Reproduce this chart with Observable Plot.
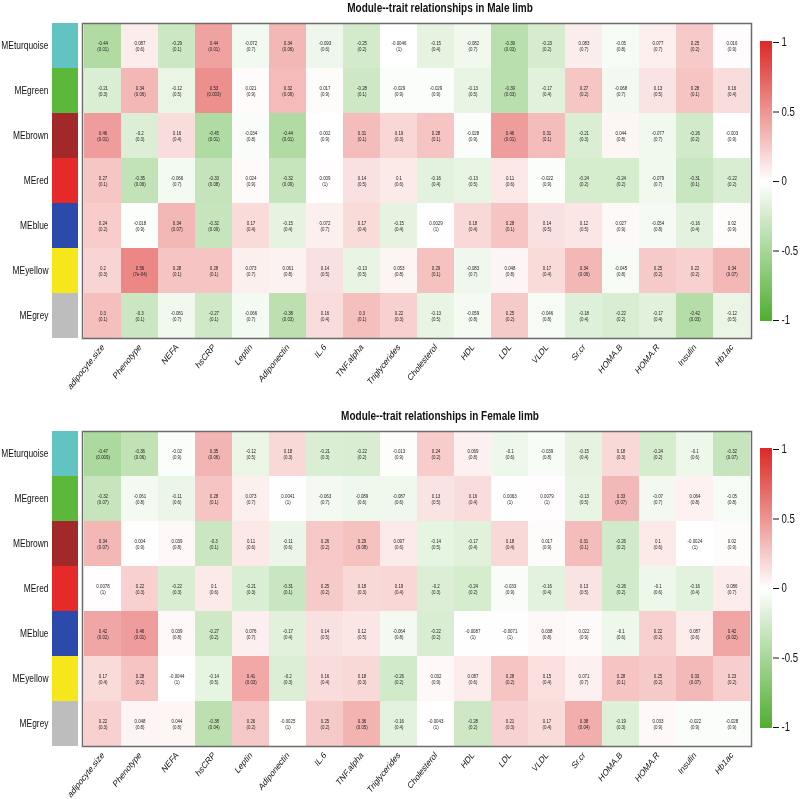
<!DOCTYPE html>
<html><head><meta charset="utf-8">
<script src="https://cdn.jsdelivr.net/npm/d3@7"></script>
<script src="https://cdn.jsdelivr.net/npm/@observablehq/plot@0.6"></script>
<style>
body{margin:0;background:#fff;}
#chart{position:relative;width:800px;height:799px;overflow:hidden;font-family:"Liberation Sans",Arial,sans-serif;background:#fff;}
#chart svg{position:absolute;background:transparent;will-change:transform;}
.title{position:absolute;font-weight:bold;font-size:12.5px;white-space:nowrap;transform:translate(-50%,0) scaleX(0.8);color:#111;}
</style></head>
<body><div id="chart"></div>
<script>
const modules = ["MEturquoise","MEgreen","MEbrown","MEred","MEblue","MEyellow","MEgrey"];
const moduleColors = ["#62c3c3","#5cb83a","#a3282a","#e62a2a","#2b4aab","#f5e71c","#bdbdbd"];
const traits = ["adipocyte.size","Phenotype","NEFA","hsCRP","Leptin","Adiponectin","IL.6","TNF.alpha","Triglycerides","Cholesterol","HDL","LDL","VLDL","Sr.cr","HOMA.B","HOMA.R","Insulin","Hb1ac"];
const legendTicks = [-1,-0.5,0,0.5,1];

const maleR = [
  [-0.44,0.087,-0.29,0.44,-0.072,0.34,-0.093,-0.25,-0.0046,-0.15,-0.082,-0.39,-0.23,0.083,-0.05,0.077,0.25,0.016],
  [-0.21,0.34,-0.12,0.53,0.021,0.32,0.017,-0.28,-0.029,-0.029,-0.13,-0.39,-0.17,0.27,-0.068,0.13,0.28,0.16],
  [0.46,-0.2,0.16,-0.45,-0.034,-0.44,0.002,0.31,0.19,0.28,-0.028,0.46,0.31,-0.21,0.044,-0.077,-0.26,-0.003],
  [0.27,-0.35,-0.066,-0.33,0.024,-0.32,0.009,0.14,0.1,-0.16,-0.13,0.11,-0.022,-0.24,-0.24,-0.079,-0.31,-0.22],
  [0.24,-0.018,0.34,-0.32,0.17,-0.15,0.072,0.17,-0.15,0.0029,0.18,0.28,0.14,0.12,0.027,-0.054,-0.16,0.02],
  [0.2,0.56,0.28,0.28,0.073,0.061,0.14,-0.13,0.053,0.29,-0.083,0.048,0.17,0.34,-0.045,0.25,0.22,0.34],
  [0.3,-0.3,-0.081,-0.27,-0.066,-0.38,0.16,0.3,0.22,-0.13,-0.059,0.25,-0.046,-0.18,-0.22,-0.17,-0.42,-0.12]
];
const maleP = [
  ["0.01","0.6","0.1","0.01","0.7","0.06","0.6","0.2","1","0.4","0.7","0.03","0.2","0.7","0.8","0.7","0.2","0.9"],
  ["0.3","0.06","0.5","0.003","0.9","0.09","0.9","0.1","0.9","0.9","0.5","0.03","0.4","0.2","0.7","0.5","0.1","0.4"],
  ["0.01","0.3","0.4","0.01","0.8","0.01","0.9","0.1","0.3","0.1","0.9","0.01","0.1","0.3","0.8","0.7","0.2","0.9"],
  ["0.1","0.06","0.7","0.08","0.9","0.09","1","0.5","0.6","0.4","0.5","0.6","0.9","0.2","0.2","0.7","0.1","0.2"],
  ["0.2","0.9","0.07","0.09","0.4","0.4","0.7","0.4","0.4","1","0.4","0.1","0.5","0.5","0.9","0.8","0.4","0.9"],
  ["0.3","7e-04","0.1","0.1","0.7","0.8","0.5","0.5","0.8","0.1","0.7","0.8","0.4","0.06","0.8","0.2","0.2","0.07"],
  ["0.1","0.1","0.7","0.1","0.7","0.03","0.4","0.1","0.3","0.5","0.8","0.2","0.8","0.4","0.2","0.4","0.03","0.5"]
];
const femaleR = [
  [-0.47,-0.36,-0.02,0.35,-0.12,0.18,-0.21,-0.22,-0.013,0.24,0.069,-0.1,-0.039,-0.15,0.18,-0.24,-0.1,-0.32],
  [-0.32,-0.061,-0.11,0.28,0.073,0.0041,-0.063,-0.089,-0.087,0.13,0.16,0.0063,0.0079,-0.13,0.33,-0.07,0.064,-0.05],
  [0.34,0.004,0.039,-0.3,0.11,-0.11,0.26,0.29,0.097,-0.14,-0.17,0.18,0.017,0.31,-0.26,0.1,-0.0024,0.02],
  [0.0078,0.22,-0.22,0.1,-0.21,-0.31,0.25,0.18,0.19,-0.2,-0.24,-0.033,-0.16,0.13,-0.26,-0.1,-0.16,0.086],
  [0.42,0.46,0.039,-0.27,0.076,-0.17,0.14,0.12,-0.064,-0.22,-0.0087,-0.0071,0.038,0.022,-0.1,0.22,0.087,0.42],
  [0.17,0.28,-0.0044,-0.14,0.41,-0.2,0.16,0.18,-0.26,0.032,0.087,0.28,0.15,0.071,0.28,0.25,0.33,0.23],
  [0.22,0.048,0.044,-0.38,0.26,-0.0025,0.25,0.36,-0.16,-0.0043,-0.28,0.21,0.17,0.38,-0.19,0.033,-0.022,-0.028]
];
const femaleP = [
  ["0.009","0.06","0.9","0.06","0.5","0.3","0.3","0.2","0.9","0.2","0.8","0.6","0.8","0.4","0.3","0.2","0.6","0.07"],
  ["0.07","0.8","0.6","0.1","0.7","1","0.7","0.6","0.6","0.5","0.4","1","1","0.5","0.07","0.7","0.8","0.8"],
  ["0.07","0.9","0.8","0.1","0.6","0.6","0.2","0.08","0.6","0.5","0.4","0.4","0.9","0.1","0.2","0.6","1","0.9"],
  ["1","0.3","0.3","0.6","0.3","0.1","0.2","0.3","0.4","0.3","0.2","0.9","0.4","0.5","0.2","0.6","0.4","0.7"],
  ["0.02","0.01","0.8","0.2","0.7","0.4","0.5","0.5","0.8","0.2","1","1","0.8","0.9","0.6","0.2","0.6","0.02"],
  ["0.4","0.2","1","0.5","0.03","0.3","0.4","0.3","0.2","0.9","0.6","0.2","0.4","0.7","0.1","0.2","0.07","0.2"],
  ["0.3","0.8","0.8","0.04","0.2","1","0.2","0.05","0.4","1","0.2","0.3","0.4","0.04","0.3","0.9","0.9","0.9"]
];

const GREEN = "#4fae30", RED = "#dc2b27";
const colorScale = {type: "linear", domain: [-1, 0, 1], range: [GREEN, "#ffffff", RED], interpolate: "rgb"};
const FONT = "'Liberation Sans', Arial, sans-serif";
const chart = document.getElementById("chart");

function squeeze(svg) {
  d3.select(svg).selectAll("text").each(function() {
    const t = this.getAttribute("transform");
    if (t && /translate\(/.test(t)) this.setAttribute("transform", t.replace(/(translate\([^)]*\))/, "$1 scale(0.8,1)"));
  });
  return svg;
}
function place(svg, left, top) {
  svg.style.left = left + "px";
  svg.style.top = top + "px";
  chart.appendChild(svg);
}

function panel(R, P, title, top, mTop, mBottom, legendTop) {
  const cells = [];
  modules.forEach((m, i) => traits.forEach((t, j) => cells.push({module: m, trait: t, r: R[i][j], p: P[i][j]})));
  const plotH = 315;
  const main = Plot.plot({
    width: 800, height: mTop + plotH + mBottom,
    marginTop: mTop, marginBottom: mBottom, marginLeft: 82, marginRight: 49,
    x: {domain: traits, padding: 0, label: null},
    y: {domain: modules, padding: 0, label: null},
    color: colorScale,
    style: {fontFamily: FONT, background: "transparent", color: "#111"},
    marks: [
      Plot.cell(cells, {x: "trait", y: "module", fill: "r"}),
      Plot.text(cells, {x: "trait", y: "module", text: d => `${d.r}\n(${d.p})`, fontSize: 5.5, fill: "#222", lineHeight: 1.2}),
      Plot.frame({stroke: "#6b6b6b", strokeWidth: 1.5}),
      Plot.axisX({anchor: "bottom", tickSize: 0, tickPadding: 7, tickRotate: -45, fontSize: 9.5, label: null}),
      Plot.axisY({anchor: "left", tickSize: 0, tickPadding: 34, fontSize: 10.5, label: null})
    ]
  });
  place(squeeze(main), 0, top);

  const sw = Plot.plot({
    width: 26, height: mTop + plotH, marginTop: mTop, marginBottom: 0, marginLeft: 0, marginRight: 0,
    x: {axis: null, padding: 0}, y: {domain: modules, padding: 0, axis: null},
    color: {domain: modules, range: moduleColors},
    style: {background: "transparent"},
    marks: [Plot.cell(modules, {x: () => "s", y: d => d, fill: d => d})]
  });
  place(sw, 52, top);

  const steps = d3.range(-1, 1, 0.01);
  const leg = Plot.plot({
    width: 40, height: 298, marginTop: 10, marginBottom: 10, marginLeft: 0, marginRight: 28,
    x: {domain: [0, 1], axis: null}, y: {domain: [-1, 1], label: null},
    color: colorScale,
    style: {fontFamily: FONT, background: "transparent", color: "#111"},
    marks: [
      Plot.rect(steps, {x1: 0, x2: 1, y1: d => d, y2: d => d + 0.01, fill: d => d + 0.005, insetTop: -0.6, insetBottom: -0.6, shapeRendering: "crispEdges"}),
      Plot.axisY({anchor: "right", ticks: legendTicks, tickSize: 6, tickPadding: 3, fontSize: 12, tickFormat: d => String(d), label: null})
    ]
  });
  place(squeeze(leg), 760, legendTop - 10);

  const t = document.createElement("div");
  t.className = "title";
  t.textContent = title;
  t.style.left = "440px";
  t.style.top = (top + mTop - 22) + "px";
  chart.appendChild(t);
}

panel(maleR, maleP, "Module--trait relationships in Male limb", 0, 23, 62, 42);
panel(femaleR, femaleP, "Module--trait relationships in Female limb", 407, 24, 53, 449);
</script>
</body></html>
